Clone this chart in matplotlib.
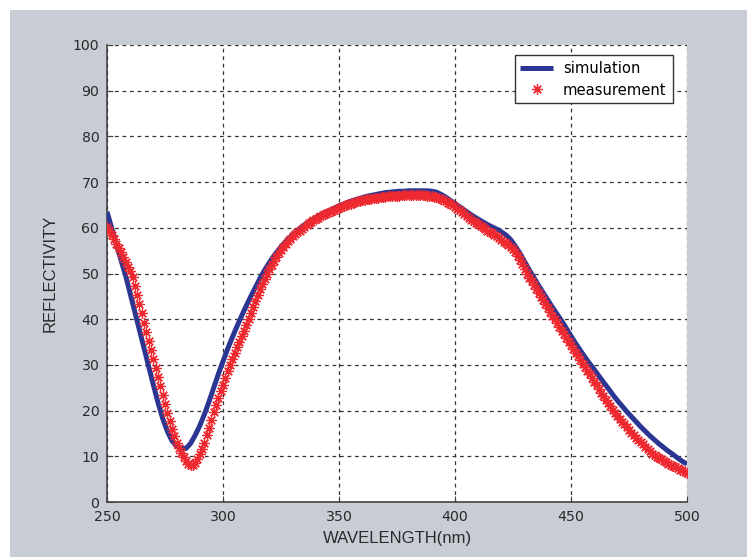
import numpy as np
import matplotlib.pyplot as plt
from matplotlib.patches import Rectangle

# simulation curve, read every 2 nm
sim_wl = list(range(250, 501, 2))
sim_r = [63.5, 60.0, 56.4, 53.0, 49.6, 45.6, 41.6, 37.6, 33.6, 29.6,
         25.6, 21.7, 18.3, 15.5, 13.4, 12.3, 11.8, 11.7, 12.8, 14.6,
         16.7, 19.2, 22.0, 25.0, 28.0, 30.8, 33.5, 36.0, 38.4, 40.7,
         42.9, 45.0, 47.0, 49.0, 50.8, 52.4, 53.9, 55.2, 56.4, 57.5,
         58.5, 59.4, 60.2, 60.9, 61.6, 62.2, 62.8, 63.3, 63.8, 64.3,
         64.8, 65.2, 65.6, 66.0, 66.3, 66.6, 66.9, 67.1, 67.3, 67.5,
         67.7, 67.8, 67.9, 68.0, 68.0, 68.1, 68.1, 68.1, 68.1, 68.1,
         68.0, 67.8, 67.3, 66.7, 66.0, 65.3, 64.6, 63.9, 63.2, 62.5,
         61.9, 61.3, 60.7, 60.2, 59.7, 59.1, 58.4, 57.4, 56.0, 54.4,
         52.6, 50.8, 49.1, 47.4, 45.8, 44.2, 42.6, 41.1, 39.6, 38.0,
         36.3, 34.7, 33.2, 31.7, 30.3, 29.0, 27.6, 26.2, 24.9, 23.5,
         22.2, 21.0, 19.8, 18.7, 17.6, 16.5, 15.5, 14.5, 13.6, 12.7,
         11.9, 11.1, 10.4, 9.6, 8.9, 8.3]

# measured points, every 1 nm
meas_wl = list(range(250, 501))
meas_r = [60.2, 59.4, 58.5, 57.5, 56.5, 55.6, 54.6, 53.6, 52.5, 51.5,
          50.6, 49.2, 47.3, 45.3, 43.3, 41.3, 39.2, 37.2, 35.2, 33.3,
          31.3, 29.4, 27.4, 25.4, 23.4, 21.4, 19.5, 17.7, 16.0, 14.4,
          13.0, 11.8, 10.7, 9.8, 9.0, 8.4, 8.1, 8.2, 8.6, 9.4,
          10.4, 11.6, 13.0, 14.6, 16.3, 18.0, 19.6, 21.2, 22.7, 24.2,
          25.7, 27.2, 28.6, 30.0, 31.3, 32.6, 33.9, 35.1, 36.3, 37.5,
          38.8, 40.1, 41.4, 42.7, 44.0, 45.3, 46.5, 47.7, 48.9, 50.0,
          51.0, 51.9, 52.8, 53.6, 54.4, 55.1, 55.8, 56.5, 57.1, 57.6,
          58.1, 58.6, 59.0, 59.4, 59.8, 60.2, 60.6, 61.0, 61.3, 61.6,
          61.9, 62.2, 62.5, 62.8, 63.0, 63.2, 63.5, 63.7, 63.9, 64.1,
          64.3, 64.5, 64.7, 64.9, 65.1, 65.3, 65.5, 65.6, 65.8, 65.9,
          66.0, 66.1, 66.2, 66.3, 66.4, 66.5, 66.6, 66.6, 66.7, 66.8,
          66.8, 66.9, 66.9, 67.0, 67.0, 67.0, 67.0, 67.1, 67.1, 67.1,
          67.1, 67.1, 67.1, 67.1, 67.1, 67.1, 67.1, 67.1, 67.0, 67.0,
          66.9, 66.8, 66.8, 66.6, 66.4, 66.1, 65.8, 65.5, 65.2, 64.9,
          64.6, 64.2, 63.8, 63.4, 63.0, 62.6, 62.2, 61.8, 61.5, 61.1,
          60.8, 60.5, 60.1, 59.8, 59.4, 59.1, 58.8, 58.4, 58.1, 57.8,
          57.4, 57.0, 56.6, 56.2, 55.8, 55.4, 54.6, 53.8, 52.9, 52.0,
          51.0, 50.0, 49.1, 48.3, 47.4, 46.6, 45.8, 44.9, 44.1, 43.3,
          42.5, 41.6, 40.8, 40.0, 39.2, 38.4, 37.5, 36.7, 35.9, 35.1,
          34.3, 33.5, 32.7, 31.9, 31.1, 30.3, 29.5, 28.7, 27.9, 27.1,
          26.3, 25.5, 24.7, 23.9, 23.1, 22.4, 21.6, 20.9, 20.2, 19.5,
          18.8, 18.2, 17.6, 17.0, 16.4, 15.8, 15.2, 14.7, 14.1, 13.6,
          13.1, 12.6, 12.1, 11.6, 11.2, 10.6, 10.2, 9.9, 9.6, 9.3,
          9.0, 8.7, 8.4, 8.1, 7.9, 7.6, 7.4, 7.1, 6.9, 6.6,
          6.4]

tick_font = ['DejaVu Sans']
label_font = ['Liberation Sans', 'DejaVu Sans']

fig = plt.figure(figsize=(7.47, 5.57), dpi=100)
fig.patch.set_facecolor('white')
fig.patches.append(Rectangle((10 / 747, 0), 1, 1 - 10 / 557, transform=fig.transFigure,
                             facecolor='#c8ccd4', edgecolor='none', zorder=-10))

ax = fig.add_axes([107 / 747, 55 / 557, 580 / 747, 457 / 557])
ax.set_facecolor('white')

ax.plot(sim_wl, sim_r, color='#2b3592', lw=3.6, label='simulation', zorder=3,
        solid_capstyle='butt')
ax.plot(meas_wl, meas_r, ls='none', marker=(8, 2, 0), ms=7.5, mew=0.9,
        color='#ee2a30', label='measurement', zorder=4)

ax.set_xlim(250, 500)
ax.set_ylim(0, 100)
ax.set_xticks(np.arange(250, 501, 50))
ax.set_yticks(np.arange(0, 101, 10))
ax.grid(True, color='#333333', ls=(0, (3, 3)), lw=0.9)
ax.set_axisbelow(True)
for s in ['top', 'right']:
    ax.spines[s].set_visible(False)
for s in ['left', 'bottom']:
    ax.spines[s].set_color('#444444')
    ax.spines[s].set_linewidth(1.2)
ax.tick_params(direction='in', length=4, color='#444444', labelsize=10.2,
               labelcolor='#2a2a2a', pad=5.5)
for lab in ax.get_xticklabels() + ax.get_yticklabels():
    lab.set_family(tick_font)

ax.set_xlabel('WAVELENGTH(nm)', fontsize=12, family=label_font, color='#2a2a2a',
              labelpad=5)
ax.set_ylabel('REFLECTIVITY', fontsize=12, family=label_font, color='#2a2a2a',
              labelpad=11)

leg = ax.legend(loc='upper right', bbox_to_anchor=(0.975, 0.978), borderaxespad=0,
                fancybox=False, edgecolor='#333333', framealpha=1,
                prop={'family': tick_font, 'size': 10.6}, handlelength=2.2,
                handletextpad=0.7, borderpad=0.4, labelspacing=0.45)
leg.get_frame().set_linewidth(1.0)

fig.savefig('out.png', dpi=100, facecolor=fig.get_facecolor())
